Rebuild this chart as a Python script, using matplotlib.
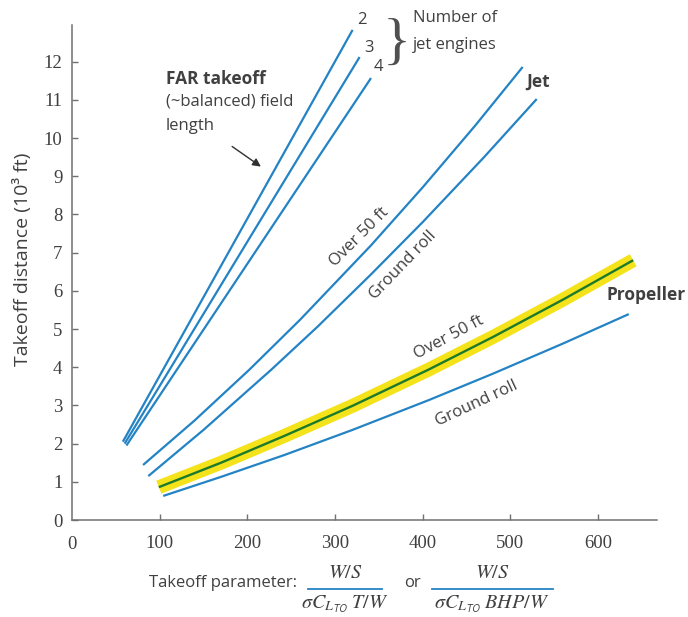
import matplotlib
matplotlib.use('Agg')
import matplotlib.pyplot as plt
from matplotlib.lines import Line2D

plt.rcParams['mathtext.fontset'] = 'stix'

BLUE = '#2383c4'
GREEN = '#1d7a2a'
YELLOW = '#f4e21a'
TEXT = '#404040'
AXIS = '#707070'
SANS = ['Open Sans', 'DejaVu Sans']

# FAR balanced field length, one curve per number of jet engines
far2_x = [58, 320]
far2_y = [2.05, 12.83]
far3_x = [60, 328]
far3_y = [2.00, 12.12]
far4_x = [62, 341]
far4_y = [1.95, 11.57]

# jet: over 50 ft obstacle and ground roll
jet_over_x = [81, 140, 202, 260, 341, 400, 460, 514]
jet_over_y = [1.44, 2.61, 3.93, 5.24, 7.19, 8.71, 10.33, 11.86]
jet_roll_x = [87, 150, 227, 280, 341, 400, 470, 530]
jet_roll_y = [1.15, 2.36, 3.93, 5.06, 6.43, 7.80, 9.50, 11.02]

# propeller: over 50 ft obstacle and ground roll
prop_over_x = [99, 170, 242, 320, 406, 480, 560, 640]
prop_over_y = [0.86, 1.50, 2.20, 2.99, 3.93, 4.79, 5.77, 6.80]
prop_roll_x = [104, 170, 242, 320, 407, 480, 560, 635]
prop_roll_y = [0.63, 1.13, 1.70, 2.36, 3.14, 3.83, 4.62, 5.39]

x_ticks = [100, 200, 300, 400, 500, 600]
y_ticks = list(range(0, 13))

fig = plt.figure(figsize=(6.88, 6.17), dpi=100)
ax = fig.add_axes([0.1047, 0.1572, 0.850, 0.803])

for xs, ys in [(far2_x, far2_y), (far3_x, far3_y), (far4_x, far4_y),
               (jet_over_x, jet_over_y), (jet_roll_x, jet_roll_y),
               (prop_roll_x, prop_roll_y)]:
    ax.plot(xs, ys, color=BLUE, lw=1.6, solid_capstyle='butt',
            solid_joinstyle='round')

# highlighted propeller curve
ax.plot(prop_over_x, prop_over_y, color=YELLOW, lw=10, solid_capstyle='butt',
        solid_joinstyle='round')
ax.plot(prop_over_x, prop_over_y, color=GREEN, lw=1.7, solid_capstyle='butt',
        solid_joinstyle='round')

ax.set_xlim(0, 667)
ax.set_ylim(0, 12.97)
for side in ['top', 'right']:
    ax.spines[side].set_visible(False)
for side in ['left', 'bottom']:
    ax.spines[side].set_color(AXIS)
    ax.spines[side].set_linewidth(1.1)

ax.set_xticks(x_ticks)
ax.set_yticks(y_ticks)
ax.tick_params(axis='both', direction='in', length=4.5, width=1, color=AXIS,
               labelcolor=TEXT, labelsize=13.5)
ax.tick_params(axis='x', pad=11)
ax.tick_params(axis='y', pad=7)
for lab in ax.get_xticklabels() + ax.get_yticklabels():
    lab.set_family('Liberation Serif')
ax.text(0, -0.65, '0', ha='center', va='center', fontsize=13.5,
        family='Liberation Serif', color=TEXT, clip_on=False)

# annotations
FS = 12
ax.text(107, 11.54, 'FAR takeoff', fontsize=12.5, fontweight='bold', family=SANS,
        color=TEXT, ha='left', va='center')
ax.text(107, 10.95, '(~balanced) field', fontsize=FS, family=SANS,
        color=TEXT, ha='left', va='center')
ax.text(107, 10.32, 'length', fontsize=FS, family=SANS,
        color=TEXT, ha='left', va='center')
ax.annotate('', xy=(218, 9.21), xytext=(180, 9.82),
            arrowprops=dict(arrowstyle='-|>', color='#303030', lw=1,
                            mutation_scale=12))

ax.text(331, 13.09, '2', fontsize=FS, family=SANS, color=TEXT, ha='center', va='center')
ax.text(339, 12.36, '3', fontsize=FS, family=SANS, color=TEXT, ha='center', va='center')
ax.text(350, 11.86, '4', fontsize=FS, family=SANS, color=TEXT, ha='center', va='center')
ax.text(370, 12.45, '}', fontsize=42, family='Liberation Serif',
        color='#505050', ha='center', va='center')
ax.text(389, 13.14, 'Number of', fontsize=FS, family=SANS, color=TEXT,
        ha='left', va='center')
ax.text(389, 12.43, 'jet engines', fontsize=FS, family=SANS, color=TEXT,
        ha='left', va='center')

ax.text(532, 11.47, 'Jet', fontsize=12.5, fontweight='bold', family=SANS,
        color=TEXT, ha='center', va='center')
ax.text(610, 5.89, 'Propeller', fontsize=12.5, fontweight='bold', family=SANS,
        color=TEXT, ha='left', va='center')

ax.text(327, 7.41, 'Over 50 ft', fontsize=FS, family=SANS, color=TEXT,
        rotation=45, ha='center', va='center', rotation_mode='anchor')
ax.text(377, 6.66, 'Ground roll', fontsize=FS, family=SANS, color=TEXT,
        rotation=46, ha='center', va='center', rotation_mode='anchor')
ax.text(430, 4.78, 'Over 50 ft', fontsize=FS, family=SANS, color=TEXT,
        rotation=28, ha='center', va='center', rotation_mode='anchor')
ax.text(461, 3.04, 'Ground roll', fontsize=FS, family=SANS, color=TEXT,
        rotation=25, ha='center', va='center', rotation_mode='anchor')

# axis titles
fig.text(0.032, 0.580, 'Takeoff distance (10³ ft)', rotation=90, fontsize=14,
         family=SANS, color=TEXT, ha='center', va='center')

W, H = 688, 617
fig.text(149 / W, 1 - 583 / H, 'Takeoff parameter:', fontsize=FS, family=SANS,
         color=TEXT, ha='left', va='center')
fig.text(412 / W, 1 - 583 / H, 'or', fontsize=FS, family=SANS,
         color=TEXT, ha='center', va='center')

fractions = [
    (345, 308, 382, r'$W/S$', r'$\sigma C_{L_{\mathsf{TO}}}\ T/W$'),
    (492, 432, 553, r'$W/S$', r'$\sigma C_{L_{\mathsf{TO}}}\ BHP/W$'),
]
for cx, x0, x1, num, den in fractions:
    fig.text(cx / W, 1 - 573 / H, num, fontsize=14.5, color=TEXT,
             ha='center', va='center')
    fig.add_artist(Line2D([x0 / W, x1 / W], [1 - 589 / H, 1 - 589 / H],
                          color=BLUE, lw=1.3, transform=fig.transFigure))
    fig.text(cx / W, 1 - 604 / H, den, fontsize=14.5, color=TEXT,
             ha='center', va='center')

fig.savefig('out.png', dpi=100, facecolor='white')
